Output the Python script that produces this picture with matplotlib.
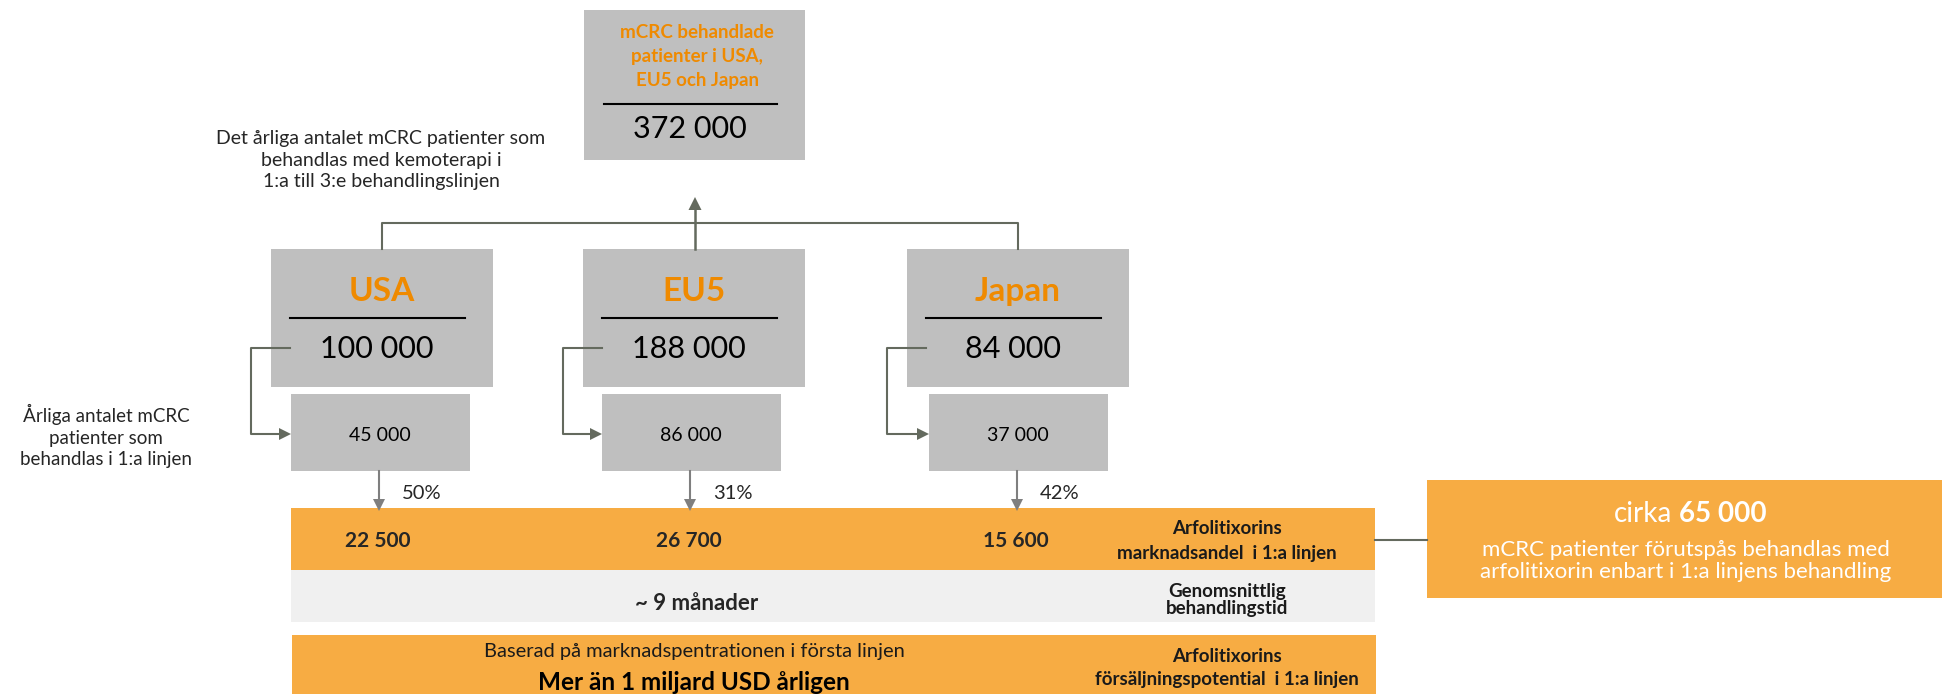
import matplotlib
matplotlib.use('Agg')
import matplotlib.pyplot as plt
from matplotlib.patches import Rectangle, Polygon

plt.rcParams['font.family'] = ['Lato', 'DejaVu Sans']

# data
regions = ['USA', 'EU5', 'Japan']
treated = [100000, 188000, 84000]
first_line = [45000, 86000, 37000]
share_pct = [50, 31, 42]
arf_patients = [22500, 26700, 15600]
total_treated = sum(treated)
total_arf = 65000

# layout (pixel coords, y downwards)
box_left = [271, 583, 907]
small_left = [291, 602, 929]

GRAY = '#bfbfbf'
ORANGE_TXT = '#ef8a00'
ORANGE_BAR = '#f7ac43'
LIGHT = '#f0f0f0'
CONN = '#646a5e'
ARROW_GRAY = '#7f7f7f'


def fmt(v):
    return f'{v:,}'.replace(',', ' ')


def head(ax, x, y, direction, color, size=12):
    # triangular arrow head with tip at (x, y)
    h = size / 2
    if direction == 'right':
        pts = [(x, y), (x - size, y - h), (x - size, y + h)]
    elif direction == 'down':
        pts = [(x, y), (x - h, y - size), (x + h, y - size)]
    else:  # up
        pts = [(x, y), (x - h, y + size), (x + h, y + size)]
    ax.add_patch(Polygon(pts, closed=True, color=color, lw=0, zorder=4))


fig = plt.figure(figsize=(19.5, 6.94), dpi=100)
ax = fig.add_axes([0, 0, 1, 1])
ax.set_xlim(0, 1950)
ax.set_ylim(694, 0)
ax.axis('off')

# top box
ax.add_patch(Rectangle((584, 10), 221, 150, color=GRAY, lw=0))
ax.text(697, 56, 'mCRC behandlade\npatienter i USA,\nEU5 och Japan', ha='center', va='center',
        fontsize=13.5, fontweight='bold', color=ORANGE_TXT, linespacing=1.5)
ax.plot([604, 777], [104, 104], color='black', lw=1.5)
ax.text(690, 129, fmt(total_treated), ha='center', va='center', fontsize=22)

ax.text(381, 160, 'Det årliga antalet mCRC patienter som\nbehandlas med kemoterapi i\n'
        '1:a till 3:e behandlingslinjen', ha='center', va='center', fontsize=14,
        color='#262626', linespacing=1.3)

# tree connector to top box
centers = [l + 111 for l in box_left]
ax.plot([centers[0], centers[0], centers[2], centers[2]], [249, 223, 223, 249], color=CONN, lw=1.5)
ax.plot([695, 695], [249, 205], color=CONN, lw=1.8)
head(ax, 695, 197, 'up', CONN, 13)

ax.text(106, 436, 'Årliga antalet mCRC\npatienter som\nbehandlas i 1:a linjen', ha='center',
        va='center', fontsize=13.5, color='#262626', linespacing=1.35)

for i, name in enumerate(regions):
    bl = box_left[i]
    sl = small_left[i]
    cx = bl + 111
    scx = sl + 89
    ax.add_patch(Rectangle((bl, 249), 222, 138, color=GRAY, lw=0))
    ax.text(cx, 291, name, ha='center', va='center', fontsize=24, fontweight='bold', color=ORANGE_TXT)
    ax.plot([bl + 19, bl + 194], [318, 318], color='black', lw=1.5)
    ax.text(cx - 5, 349, fmt(treated[i]), ha='center', va='center', fontsize=22)

    ax.add_patch(Rectangle((sl, 394), 179, 77, color=GRAY, lw=0))
    ax.text(scx, 435, fmt(first_line[i]), ha='center', va='center', fontsize=14)

    # elbow connector
    ax.plot([bl + 19, bl - 20, bl - 20, sl - 10], [348, 348, 434, 434], color=CONN, lw=1.5)
    head(ax, sl, 434, 'right', CONN, 12)

    # down arrow to share bar
    ax.plot([scx - 1, scx - 1], [471, 500], color=ARROW_GRAY, lw=1.5)
    head(ax, scx - 1, 511, 'down', ARROW_GRAY, 12)
    ax.text(scx + 22, 493, f'{share_pct[i]}%', ha='left', va='center', fontsize=14.5, color='#262626')

    ax.text(scx - 2, 541, fmt(arf_patients[i]), ha='center', va='center', fontsize=15,
            fontweight='bold', color='#262626')

# bars
ax.add_patch(Rectangle((291, 508), 1084, 62, color=ORANGE_BAR, lw=0, zorder=0))
ax.add_patch(Rectangle((291, 570), 1084, 52, color=LIGHT, lw=0, zorder=0))
ax.add_patch(Rectangle((292, 635), 1084, 70, color=ORANGE_BAR, lw=0, zorder=0))

ax.text(1227, 541, 'Arfolitixorins\nmarknadsandel  i 1:a linjen', ha='center', va='center',
        fontsize=13.5, fontweight='bold', color='#1a1a1a', linespacing=1.6)
ax.text(697, 603, '~ 9 månader', ha='center', va='center', fontsize=16, fontweight='bold', color='#262626')
ax.text(1227, 600, 'Genomsnittlig\nbehandlingstid', ha='center', va='center',
        fontsize=13.5, fontweight='bold', color='#1a1a1a', linespacing=1.0)
ax.text(694, 652, 'Baserad på marknadspentrationen i första linjen', ha='center', va='center',
        fontsize=14.5, color='#1a1a1a')
ax.text(694, 682, 'Mer än 1 miljard USD årligen', ha='center', va='center', fontsize=17.5,
        fontweight='bold', color='black')
ax.text(1227, 668, 'Arfolitixorins\nförsäljningspotential  i 1:a linjen', ha='center', va='center',
        fontsize=13.5, fontweight='bold', color='#1a1a1a', linespacing=1.5)

# right summary box
ax.plot([1375, 1427], [540, 540], color=CONN, lw=1.5)
ax.add_patch(Rectangle((1427, 480), 515, 118, color=ORANGE_BAR, lw=0))
ax.text(1672, 514, 'cirka', ha='right', va='center', fontsize=20, color='white')
ax.text(1679, 514, fmt(total_arf), ha='left', va='center', fontsize=20, fontweight='bold', color='white')
ax.text(1686, 561, 'mCRC patienter förutspås behandlas med\narfolitixorin enbart i 1:a linjens behandling',
        ha='center', va='center', fontsize=16, color='white', linespacing=1.15)

fig.savefig('out.png', dpi=100)
